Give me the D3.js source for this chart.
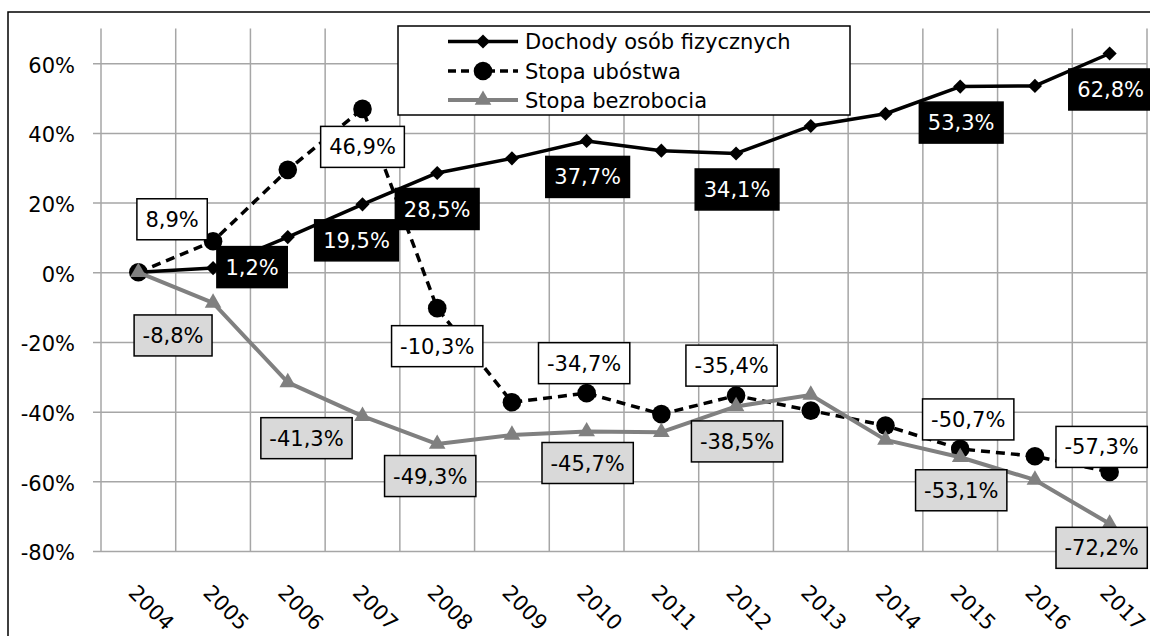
<!DOCTYPE html>
<html>
<head>
<meta charset="utf-8">
<script src="https://cdn.jsdelivr.net/npm/d3@7"></script>
<style>
  body { margin: 0; background: #fff; }
  svg { display: block; font-family: "DejaVu Sans", sans-serif; }
</style>
</head>
<body>
<svg id="chart" width="1150" height="636"></svg>
<script>
// values (change vs 2004, in %)
const years = [2004, 2005, 2006, 2007, 2008, 2009, 2010, 2011, 2012, 2013, 2014, 2015, 2016, 2017];
const dochody = [0, 1.2, 10.1, 19.5, 28.5, 32.7, 37.7, 34.9, 34.1, 42.0, 45.5, 53.3, 53.5, 62.8];
const ubostwo = [0, 8.9, 29.4, 46.9, -10.3, -37.3, -34.7, -40.7, -35.4, -39.7, -44.0, -50.7, -52.8, -57.3];
const bezrobocie = [0, -8.8, -31.6, -41.3, -49.3, -46.7, -45.7, -45.9, -38.5, -35.2, -48.1, -53.1, -59.6, -72.2];
const labelYears = [2005, 2007, 2008, 2010, 2012, 2015, 2017];
const yTicks = [-80, -60, -40, -20, 0, 20, 40, 60];
const seriesNames = ["Dochody osób fizycznych", "Stopa ubóstwa", "Stopa bezrobocia"];

// where each data label box sits, relative to its point (layout only)
const dochodyLabelPos = [[39, -1], [-6, 36], [0, 36], [1, 36], [1, 36], [1, 36], [1, 36]];
const ubostwoLabelPos = [[-41, -22], [0, 38], [0, 38], [-2.5, -30], [-4.5, -30], [8, -29.5], [-8, -25]];
const bezrobocieLabelPos = [[-40, 32.5], [-56, 22], [-7, 32], [1, 31.5], [1, 35], [1, 33], [-8, 24]];

const svg = d3.select("#chart");
const plotL = 101, plotR = 1147, plotT = 28.4, plotB = 551;
const FS = 21;

const x = d3.scaleBand().domain(years).range([plotL, plotR]);
const y = d3.scaleLinear().domain([-80, 70]).range([plotB, plotT]);
const cx = yr => x(yr) + x.bandwidth() / 2;

// outer frame (cut off at right and bottom like the source)
svg.append("rect").attr("x", 8).attr("y", 12).attr("width", 1160).attr("height", 640)
  .attr("fill", "none").attr("stroke", "#000").attr("stroke-width", 1.5);

// vertical gridlines at category boundaries
const vLines = years.map(yr => x(yr)).concat([plotR]);
svg.append("g").selectAll("line").data(vLines).join("line")
  .attr("x1", d => d).attr("x2", d => d).attr("y1", plotT).attr("y2", plotB)
  .attr("stroke", "#a6a6a6").attr("stroke-width", 1.5);

// y axis: gridlines + ticks + labels in one go
const yAxis = svg.append("g").attr("transform", `translate(${plotR},0)`)
  .call(d3.axisLeft(y).tickValues(yTicks).tickSize(plotR - 93).tickPadding(18).tickFormat(d => d + "%"));
yAxis.select(".domain").remove();
yAxis.selectAll("line").attr("stroke", "#a6a6a6").attr("stroke-width", 1.5);
yAxis.selectAll("text").attr("font-size", FS).attr("fill", "#000").attr("font-family", "DejaVu Sans").attr("dy", "0.42em");

// x axis labels, rotated
const xAxis = svg.append("g").attr("transform", `translate(0,${plotB})`)
  .call(d3.axisBottom(x).tickSize(0));
xAxis.select(".domain").remove();
xAxis.selectAll("text").attr("font-size", FS).attr("fill", "#000").attr("font-family", "DejaVu Sans")
  .attr("x", 0).attr("y", 0).attr("dy", 0).attr("text-anchor", "start")
  .attr("transform", "translate(-11,43) rotate(45)");

// lines
const line = vals => d3.line().x((d, i) => cx(years[i])).y(d => y(d))(vals);

svg.append("path").attr("d", line(dochody)).attr("fill", "none")
  .attr("stroke", "#000").attr("stroke-width", 3.5).attr("stroke-linejoin", "round");
svg.append("g").selectAll("path").data(dochody).join("path")
  .attr("d", d3.symbol(d3.symbolSquare, 100))
  .attr("transform", (d, i) => `translate(${cx(years[i])},${y(d)}) rotate(45)`)
  .attr("fill", "#000");

svg.append("path").attr("d", line(ubostwo)).attr("fill", "none")
  .attr("stroke", "#000").attr("stroke-width", 3.5).attr("stroke-dasharray", "9,6");
svg.append("g").selectAll("circle").data(ubostwo).join("circle")
  .attr("cx", (d, i) => cx(years[i])).attr("cy", d => y(d)).attr("r", 9.3)
  .attr("fill", "#000");

svg.append("path").attr("d", line(bezrobocie)).attr("fill", "none")
  .attr("stroke", "#808080").attr("stroke-width", 4).attr("stroke-linejoin", "round");
svg.append("g").selectAll("path").data(bezrobocie).join("path")
  .attr("d", d3.symbol(d3.symbolTriangle, 120))
  .attr("transform", (d, i) => `translate(${cx(years[i])},${y(d)})`)
  .attr("fill", "#808080");

// data labels
const fmt = v => v.toFixed(1).replace(".", ",") + "%";

function addLabels(vals, pos, fill, color) {
  labelYears.forEach((yr, k) => {
    const i = years.indexOf(yr);
    const px = cx(yr) + pos[k][0], py = y(vals[i]) + pos[k][1];
    const g = svg.append("g").attr("transform", `translate(${px},${py})`);
    const rect = g.append("rect");
    const t = g.append("text").text(fmt(vals[i]))
      .attr("text-anchor", "middle").attr("dy", "0.36em")
      .attr("font-size", FS).attr("fill", color);
    const w = t.node().getComputedTextLength() + 17, h = 41;
    rect.attr("x", -w / 2).attr("y", -h / 2).attr("width", w).attr("height", h)
      .attr("fill", fill).attr("stroke", "#000").attr("stroke-width", 1.5);
  });
}
addLabels(dochody, dochodyLabelPos, "#000", "#fff");
addLabels(ubostwo, ubostwoLabelPos, "#fff", "#000");
addLabels(bezrobocie, bezrobocieLabelPos, "#d9d9d9", "#000");

// legend
const legend = svg.append("g");
legend.append("rect").attr("x", 398).attr("y", 26).attr("width", 452).attr("height", 89)
  .attr("fill", "#fff").attr("stroke", "#000").attr("stroke-width", 1.5);
const rowY = [41.5, 71, 100];
seriesNames.forEach((name, k) => {
  const ly = rowY[k];
  const s = legend.append("line").attr("x1", 448).attr("x2", 518).attr("y1", ly).attr("y2", ly)
    .attr("stroke", k === 2 ? "#808080" : "#000").attr("stroke-width", k === 2 ? 4 : 3.5);
  if (k === 1) s.attr("stroke-dasharray", "8,5");
  if (k === 0) legend.append("path").attr("d", d3.symbol(d3.symbolSquare, 100))
    .attr("transform", `translate(483,${ly}) rotate(45)`).attr("fill", "#000");
  if (k === 1) legend.append("circle").attr("cx", 483).attr("cy", ly).attr("r", 9.3).attr("fill", "#000");
  if (k === 2) legend.append("path").attr("d", d3.symbol(d3.symbolTriangle, 120))
    .attr("transform", `translate(483,${ly})`).attr("fill", "#808080");
  legend.append("text").attr("x", 525).attr("y", ly).attr("dy", "0.36em")
    .attr("font-size", FS).attr("fill", "#000").text(name);
});
</script>
</body>
</html>
